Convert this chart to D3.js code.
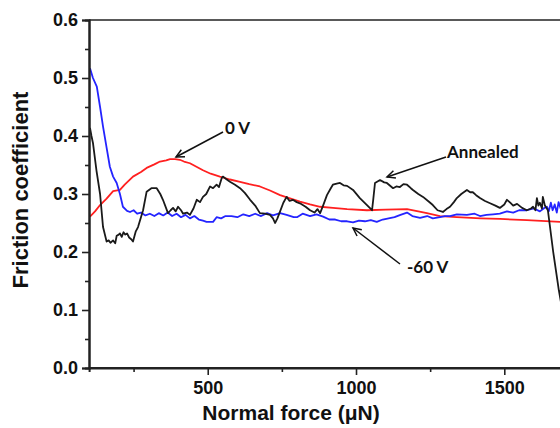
<!DOCTYPE html>
<html><head><meta charset="utf-8">
<script src="https://cdn.jsdelivr.net/npm/d3@7"></script>
<style>body{margin:0;background:#fff}svg{display:block}text{font-family:"Liberation Sans",Arial,sans-serif;font-weight:bold;fill:#111}.ann{font-family:Lato,"Liberation Sans",sans-serif;font-weight:bold}</style>
</head><body>
<script>
const yTicks = [0.0,0.1,0.2,0.3,0.4,0.5,0.6];
const xTicks = [500,1000,1500];
const seriesNames = ["Annealed","0 V","-60 V"];
const blue = [[103,0.517],[113,0.50],[126,0.485],[137,0.45],[147,0.416],[159,0.38],[170,0.347],[181,0.33],[193,0.319],[204,0.30],[214,0.278],[228,0.271],[238,0.269],[250,0.272],[262,0.266],[275,0.268],[290,0.263],[305,0.266],[320,0.262],[335,0.267],[350,0.263],[365,0.268],[380,0.262],[395,0.266],[410,0.26],[425,0.264],[440,0.258],[455,0.262],[470,0.256],[484,0.254],[496,0.252],[508,0.252],[518,0.252],[530,0.26],[545,0.258],[560,0.262],[580,0.262],[600,0.26],[620,0.265],[640,0.262],[660,0.266],[680,0.262],[700,0.267],[720,0.263],[744,0.267],[766,0.264],[790,0.26],[801,0.26],[820,0.266],[845,0.262],[867,0.265],[889,0.261],[910,0.256],[930,0.256],[950,0.253],[970,0.253],[990,0.251],[1010,0.254],[1030,0.253],[1050,0.255],[1070,0.252],[1090,0.256],[1110,0.258],[1130,0.26],[1150,0.264],[1172,0.268],[1190,0.262],[1216,0.259],[1240,0.262],[1259,0.258],[1283,0.26],[1300,0.262],[1317,0.262],[1340,0.265],[1374,0.264],[1400,0.266],[1418,0.262],[1440,0.264],[1462,0.265],[1485,0.266],[1509,0.27],[1530,0.268],[1550,0.272],[1576,0.272],[1600,0.275],[1620,0.27],[1635,0.276],[1644,0.278],[1650,0.27],[1657,0.285],[1663,0.272],[1670,0.282],[1677,0.268],[1683,0.286],[1690,0.275],[1700,0.28]];
const red = [[103,0.261],[120,0.27],[137,0.281],[159,0.292],[181,0.305],[204,0.307],[220,0.316],[248,0.33],[275,0.338],[294,0.345],[320,0.351],[339,0.356],[360,0.358],[373,0.36],[390,0.36],[406,0.359],[420,0.356],[440,0.353],[462,0.347],[484,0.341],[510,0.335],[541,0.33],[575,0.325],[609,0.321],[640,0.317],[676,0.313],[710,0.306],[744,0.298],[780,0.292],[811,0.287],[845,0.282],[879,0.278],[922,0.276],[970,0.274],[1037,0.272],[1100,0.273],[1172,0.274],[1210,0.27],[1239,0.267],[1283,0.262],[1340,0.26],[1420,0.258],[1485,0.257],[1576,0.255],[1690,0.252],[1720,0.252]];
const black = [[103,0.414],[108,0.40],[113,0.388],[125,0.34],[137,0.30],[147,0.243],[159,0.218],[166,0.22],[172,0.216],[181,0.22],[188,0.215],[193,0.228],[200,0.23],[204,0.232],[210,0.226],[216,0.234],[222,0.23],[228,0.232],[235,0.225],[242,0.222],[248,0.218],[257,0.235],[265,0.243],[282,0.272],[294,0.304],[310,0.31],[328,0.31],[340,0.3],[349,0.29],[366,0.267],[375,0.272],[383,0.276],[392,0.27],[400,0.278],[410,0.272],[417,0.266],[430,0.268],[440,0.264],[452,0.275],[463,0.29],[474,0.286],[484,0.295],[495,0.3],[508,0.313],[518,0.31],[530,0.316],[538,0.312],[547,0.327],[551,0.33],[562,0.326],[575,0.321],[592,0.316],[609,0.31],[625,0.302],[643,0.29],[660,0.28],[676,0.267],[693,0.266],[710,0.264],[720,0.258],[727,0.25],[735,0.258],[744,0.27],[755,0.285],[766,0.295],[776,0.288],[787,0.29],[800,0.286],[811,0.284],[830,0.278],[845,0.272],[860,0.268],[870,0.274],[879,0.267],[889,0.28],[902,0.298],[915,0.31],[922,0.316],[935,0.318],[946,0.319],[958,0.315],[970,0.314],[990,0.307],[1013,0.293],[1037,0.281],[1054,0.272],[1058,0.29],[1064,0.319],[1081,0.324],[1095,0.32],[1104,0.319],[1125,0.31],[1136,0.313],[1148,0.312],[1160,0.317],[1172,0.316],[1185,0.31],[1192,0.307],[1210,0.3],[1226,0.295],[1245,0.287],[1259,0.281],[1275,0.272],[1293,0.269],[1305,0.274],[1317,0.278],[1330,0.286],[1340,0.293],[1355,0.3],[1374,0.307],[1385,0.303],[1394,0.303],[1405,0.298],[1418,0.293],[1435,0.288],[1452,0.284],[1470,0.28],[1485,0.276],[1500,0.282],[1509,0.29],[1520,0.285],[1530,0.28],[1543,0.283],[1560,0.276],[1576,0.272],[1590,0.275],[1597,0.278],[1605,0.272],[1610,0.293],[1615,0.28],[1620,0.285],[1627,0.275],[1630,0.295],[1637,0.28],[1647,0.272],[1665,0.2],[1684,0.134],[1720,0.03]];

const W=560,H=428;
const svg=d3.select("body").append("svg").attr("width",W).attr("height",H);
const x=d3.scaleLinear().domain([100,1700]).range([89.1,563.6]);
const y=d3.scaleLinear().domain([0,0.6]).range([368,20]);

svg.append("defs").append("clipPath").attr("id","clip").append("rect")
  .attr("x",89).attr("y",20).attr("width",W).attr("height",348);

svg.append("line").attr("x1",89).attr("x2",W).attr("y1",y(0.6)).attr("y2",y(0.6)).attr("stroke","#222").attr("stroke-width",1.5);

const line=d3.line().x(d=>x(d[0])).y(d=>y(d[1]));
const g=svg.append("g").attr("clip-path","url(#clip)");
[[red,"#ff2020"],[blue,"#2424ff"],[black,"#1a1a1a"]].forEach(([d,c])=>{
  g.append("path").datum(d).attr("d",line).attr("fill","none").attr("stroke",c).attr("stroke-width",1.8).attr("stroke-linejoin","round");
});

const yAx=svg.append("g").attr("transform",`translate(89,0)`)
  .call(d3.axisLeft(y).tickValues(yTicks).tickFormat(d3.format(".1f")).tickSize(7).tickPadding(4));
yAx.append("g").call(d3.axisLeft(y).tickValues(d3.range(0.05,0.6,0.1)).tickFormat("").tickSize(4));
const xAx=svg.append("g").attr("transform",`translate(0,368)`)
  .call(d3.axisBottom(x).tickValues(xTicks).tickFormat(d3.format("d")).tickSize(7).tickPadding(6));
xAx.append("g").call(d3.axisBottom(x).tickValues([250,750,1250,1750]).tickFormat("").tickSize(4));
svg.selectAll(".domain").attr("stroke","#222").attr("stroke-width",2);
svg.selectAll(".tick line").attr("stroke","#222").attr("stroke-width",1.6);
svg.selectAll(".tick text").style("font-size","18px").style("fill","#111");
xAx.select(".domain").attr("d",`M89,0H${W}`);

svg.append("text").attr("x",291).attr("y",420).attr("text-anchor","middle").style("font-size","21px").text("Normal force (\u03bcN)");
svg.append("text").attr("transform","translate(28,190) rotate(-90)").attr("text-anchor","middle").style("font-size","22px").text("Friction coefficient");

function arrow(x1,y1,x2,y2){
  svg.append("line").attr("x1",x1).attr("y1",y1).attr("x2",x2).attr("y2",y2).attr("stroke","#111").attr("stroke-width",1.5);
  const a=Math.atan2(y1-y2,x1-x2), L=9, s=0.45;
  svg.append("path").attr("d",`M${x2+L*Math.cos(a+s)},${y2+L*Math.sin(a+s)}L${x2},${y2}L${x2+L*Math.cos(a-s)},${y2+L*Math.sin(a-s)}`)
    .attr("fill","none").attr("stroke","#111").attr("stroke-width",1.5);
}
svg.append("text").attr("class","ann").attr("x",225).attr("y",134).style("font-size","17px").text(seriesNames[1]);
arrow(223,132,176,157);
svg.append("text").attr("class","ann").attr("x",447).attr("y",158).style("font-size","17px").text(seriesNames[0]);
arrow(446,157,387,177);
svg.append("text").attr("class","ann").attr("x",407).attr("y",273).style("font-size","17px").text(seriesNames[2]);
arrow(400,264,353,228);
</script>
</body></html>
